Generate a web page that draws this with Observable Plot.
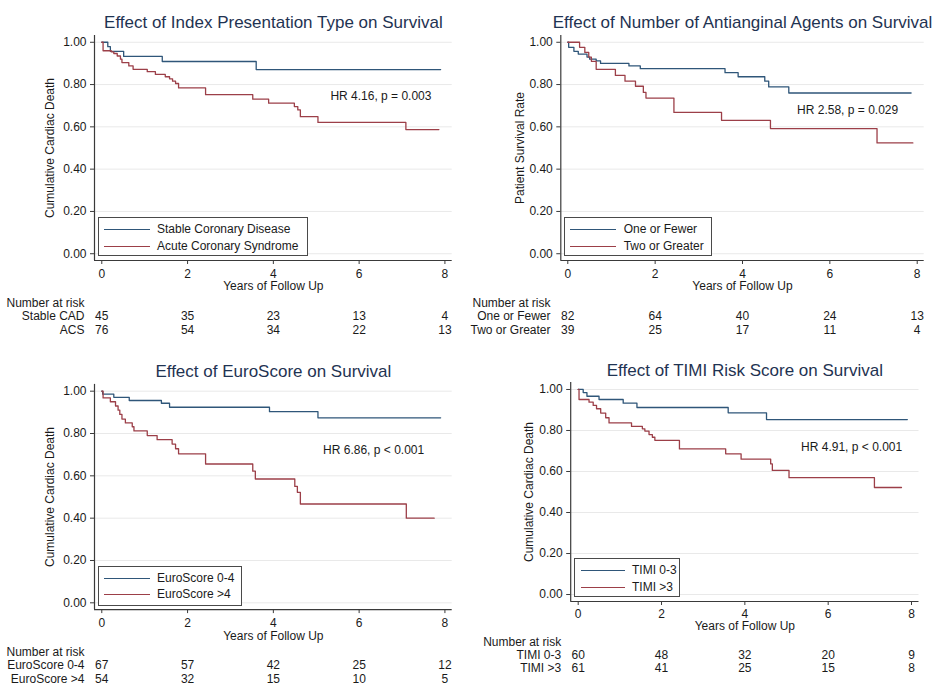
<!DOCTYPE html>
<html><head><meta charset="utf-8">
<script src="https://cdn.jsdelivr.net/npm/d3@7"></script>
<script src="https://cdn.jsdelivr.net/npm/@observablehq/plot@0.6"></script>
<style>
body{margin:0;background:#fff;font-family:"Liberation Sans",Arial,sans-serif;}
#wrap{position:relative;width:946px;height:692px;overflow:hidden;background:#fff;}
.panel{position:absolute;}
.panel svg{overflow:visible;}
.legend{position:absolute;border:1.3px solid #4a4a4a;background:#fff;box-sizing:border-box;}
.legend .sw{position:absolute;height:0;border-top:1.3px solid;}
.legend .lt{position:absolute;font-size:12px;color:#1a1a1a;line-height:14px;white-space:nowrap;}
</style></head><body><div id="wrap"></div>
<script>
// ---------- data ----------
const xTicks = [0, 2, 4, 6, 8];
const yTicks = [0, 0.2, 0.4, 0.6, 0.8, 1.0];
const riskYears = [0, 2, 4, 6, 8];
const xLabel = "Years of Follow Up";
const colors = ["#2f5679", "#9c3f48"];

// Panel 1: Index presentation type
const p1Title = "Effect of Index Presentation Type on Survival";
const p1YLabel = "Cumulative Cardiac Death";
const p1Names = ["Stable Coronary Disease", "Acute Coronary Syndrome"];
const p1RiskLabels = ["Stable CAD", "ACS"];
const p1StableT = [0, 0.14, 0.2, 0.51, 1.41, 3.6, 7.9];
const p1StableS = [1, 0.979, 0.957, 0.933, 0.909, 0.871, 0.871];
const p1AcsT = [0, 0.03, 0.22, 0.28, 0.36, 0.435, 0.47, 0.63, 0.73, 1.06, 1.25, 1.48, 1.58, 1.65, 1.72, 1.79, 2.42, 3.52, 3.89, 4.49, 4.57, 4.63, 5.04, 7.09, 7.86];
const p1AcsS = [1, 0.96, 0.955, 0.947, 0.935, 0.92, 0.904, 0.888, 0.872, 0.861, 0.848, 0.837, 0.827, 0.816, 0.805, 0.784, 0.752, 0.731, 0.712, 0.696, 0.68, 0.648, 0.621, 0.587, 0.587];
const p1RiskStable = [45, 35, 23, 13, 4];
const p1RiskAcs = [76, 54, 34, 22, 13];
const p1HR = "HR 4.16, p = 0.003";

// Panel 2: Number of antianginal agents
const p2Title = "Effect of Number of Antianginal Agents on Survival";
const p2YLabel = "Patient Survival Rate";
const p2Names = ["One or Fewer", "Two or Greater"];
const p2RiskLabels = ["One or Fewer", "Two or Greater"];
const p2OneT = [0, 0.02, 0.14, 0.24, 0.44, 0.5, 0.65, 0.75, 1.4, 1.66, 3.6, 3.9, 4.51, 4.6, 5.06, 7.86];
const p2OneS = [1, 0.976, 0.957, 0.944, 0.93, 0.92, 0.912, 0.90, 0.888, 0.875, 0.856, 0.837, 0.816, 0.789, 0.76, 0.76];
const p2TwoT = [0, 0.27, 0.39, 0.48, 0.54, 0.65, 1.09, 1.31, 1.55, 1.73, 1.79, 2.43, 3.52, 4.64, 7.08, 7.9];
const p2TwoS = [1, 0.976, 0.952, 0.93, 0.91, 0.872, 0.843, 0.816, 0.792, 0.763, 0.736, 0.668, 0.631, 0.592, 0.524, 0.524];
const p2RiskOne = [82, 64, 40, 24, 13];
const p2RiskTwo = [39, 25, 17, 11, 4];
const p2HR = "HR 2.58, p = 0.029";

// Panel 3: EuroScore
const p3Title = "Effect of EuroScore on Survival";
const p3YLabel = "Cumulative Cardiac Death";
const p3Names = ["EuroScore 0-4", "EuroScore >4"];
const p3RiskLabels = ["EuroScore 0-4", "EuroScore >4"];
const p3LowT = [0, 0.02, 0.28, 0.64, 1.39, 1.58, 3.91, 5.04, 7.9];
const p3LowS = [1, 0.986, 0.971, 0.956, 0.943, 0.924, 0.903, 0.874, 0.874];
const p3HighT = [0, 0.03, 0.2, 0.32, 0.38, 0.42, 0.47, 0.55, 0.71, 0.75, 1.06, 1.29, 1.64, 1.72, 1.79, 2.42, 3.52, 3.58, 4.5, 4.56, 4.63, 7.1, 7.75];
const p3HighS = [1, 0.968, 0.95, 0.93, 0.91, 0.89, 0.868, 0.85, 0.832, 0.812, 0.79, 0.771, 0.75, 0.728, 0.704, 0.656, 0.622, 0.585, 0.55, 0.522, 0.467, 0.40, 0.40];
const p3RiskLow = [67, 57, 42, 25, 12];
const p3RiskHigh = [54, 32, 15, 10, 5];
const p3HR = "HR 6.86, p < 0.001";

// Panel 4: TIMI risk score
const p4Title = "Effect of TIMI Risk Score on Survival";
const p4YLabel = "Cumulative Cardiac Death";
const p4Names = ["TIMI 0-3", "TIMI >3"];
const p4RiskLabels = ["TIMI 0-3", "TIMI >3"];
const p4LowT = [0, 0.12, 0.21, 0.5, 1.08, 1.41, 3.6, 4.52, 7.9];
const p4LowS = [1, 0.985, 0.967, 0.951, 0.933, 0.912, 0.886, 0.853, 0.853];
const p4HighT = [0, 0.02, 0.26, 0.36, 0.44, 0.54, 0.66, 0.74, 1.28, 1.54, 1.6, 1.7, 1.78, 1.84, 2.43, 3.54, 3.91, 4.62, 4.66, 5.06, 7.11, 7.76];
const p4HighS = [1, 0.951, 0.938, 0.922, 0.906, 0.885, 0.862, 0.837, 0.82, 0.808, 0.797, 0.78, 0.767, 0.752, 0.71, 0.686, 0.66, 0.637, 0.605, 0.57, 0.522, 0.522];
const p4RiskLow = [60, 48, 32, 20, 9];
const p4RiskHigh = [61, 41, 25, 15, 8];
const p4HR = "HR 4.91, p < 0.001";

// ---------- layout / drawing ----------
const FONT = "'Liberation Sans', Arial, sans-serif";
const TXT = "#1a1a1a";
const AX = "#3a3a3a";
const TITLE = "#1f3352";

function makePanel(c) {
  const xd = [-c.xPad, 8 + c.xPad];
  const yd = [-c.yPad, 1 + c.yPad];
  const rows = [];
  c.series.forEach(s => s.t.forEach((t, j) => rows.push({t, s: s.s[j], g: s.name})));
  const marks = [
    Plot.gridY(yTicks, {stroke: "#e9e9e9", strokeOpacity: 1, strokeWidth: 1}),
    Plot.ruleX([xd[0]], {stroke: AX, strokeWidth: 1.2}),
    Plot.ruleY([yd[0]], {stroke: AX, strokeWidth: 1.2}),
    Plot.axisY(yTicks, {tickFormat: d3.format(".2f"), tickSize: 4, tickPadding: 4, label: null, stroke: AX, fill: TXT}),
    Plot.axisX(xTicks, {tickSize: 4, tickPadding: c.xPadTick, label: null, stroke: AX, fill: TXT}),
    Plot.line(rows, {x: "t", y: "s", z: "g", stroke: "g", curve: "step-after", strokeWidth: 1.3}),
    Plot.text([c.hr], {x: c.hrX, y: c.hrY, textAnchor: "start", fill: TXT}),
    Plot.text([c.title], {frameAnchor: "top", lineAnchor: "middle", dy: c.titleDy, fontSize: 17, fill: TITLE}),
    Plot.text([c.ylabel], {frameAnchor: "left", textAnchor: "middle", lineAnchor: "middle", rotate: -90, dx: c.ylabDx, fill: TXT}),
    Plot.text([xLabel], {frameAnchor: "bottom", lineAnchor: "middle", dy: c.off[0], fill: TXT}),
    Plot.text(["Number at risk"], {frameAnchor: "bottom-left", textAnchor: "end", lineAnchor: "middle", dx: c.rowDx, dy: c.off[1], fill: TXT})
  ];
  c.series.forEach((s, i) => {
    marks.push(Plot.text([s.riskLabel], {frameAnchor: "bottom-left", textAnchor: "end", lineAnchor: "middle", dx: c.rowDx, dy: c.off[2 + i], fill: TXT}));
    const rr = riskYears.map((yr, j) => ({x: yr, n: s.risk[j]}));
    marks.push(Plot.text(rr, {x: "x", text: "n", frameAnchor: "bottom", lineAnchor: "middle", dy: c.off[2 + i], fill: TXT}));
  });
  const svg = Plot.plot({
    width: c.w, height: c.h,
    marginLeft: c.ml, marginRight: c.mr, marginTop: c.mt, marginBottom: c.mb,
    style: {fontFamily: FONT, fontSize: "12px", color: TXT, background: "#fff", overflow: "visible"},
    x: {domain: xd},
    y: {domain: yd},
    color: {domain: c.series.map(s => s.name), range: colors},
    marks
  });
  const div = document.createElement("div");
  div.className = "panel";
  div.style.left = c.left + "px"; div.style.top = c.top + "px";
  div.style.width = c.w + "px"; div.style.height = c.h + "px";
  div.appendChild(svg);
  // legend
  const L = c.legend;
  const lg = document.createElement("div");
  lg.className = "legend";
  lg.style.left = L.l + "px"; lg.style.top = L.t + "px";
  lg.style.width = L.w + "px"; lg.style.height = L.h + "px";
  c.series.forEach((s, i) => {
    const sw = document.createElement("div");
    sw.className = "sw";
    sw.style.borderTopColor = colors[i];
    sw.style.left = (L.x1 - L.l) + "px";
    sw.style.width = (L.x2 - L.x1) + "px";
    sw.style.top = (L.rows[i] - L.t - 1) + "px";
    lg.appendChild(sw);
    const lt = document.createElement("div");
    lt.className = "lt";
    lt.textContent = s.name;
    lt.style.left = (L.tx - L.l) + "px";
    lt.style.top = (L.rows[i] - L.t - 8) + "px";
    lg.appendChild(lt);
  });
  div.appendChild(lg);
  document.getElementById("wrap").appendChild(div);
}

makePanel({
  left: 0, top: 0, w: 470, h: 340, ml: 94, mr: 18.3, mt: 35, mb: 80, xPad: 0.17, yPad: 0.032, xPadTick: 5,
  title: p1Title, ylabel: p1YLabel, hr: p1HR, hrX: 5.33, hrY: 0.745,
  titleDy: -13, ylabDx: -44, rowDx: -10, off: [26, 43, 56, 70],
  series: [
    {name: p1Names[0], riskLabel: p1RiskLabels[0], t: p1StableT, s: p1StableS, risk: p1RiskStable},
    {name: p1Names[1], riskLabel: p1RiskLabels[1], t: p1AcsT, s: p1AcsS, risk: p1RiskAcs}
  ],
  legend: {l: 97.7, t: 216.7, w: 210.3, h: 39.3, x1: 103, x2: 149, tx: 156, rows: [228.7, 245.7]}
});
makePanel({
  left: 470, top: 0, w: 476, h: 340, ml: 90.3, mr: 22.3, mt: 35, mb: 80, xPad: 0.16, yPad: 0.032, xPadTick: 5,
  title: p2Title, ylabel: p2YLabel, hr: p2HR, hrX: 5.25, hrY: 0.677,
  titleDy: -13, ylabDx: -40.3, rowDx: -10.3, off: [26, 43, 56, 70],
  series: [
    {name: p2Names[0], riskLabel: p2RiskLabels[0], t: p2OneT, s: p2OneS, risk: p2RiskOne},
    {name: p2Names[1], riskLabel: p2RiskLabels[1], t: p2TwoT, s: p2TwoS, risk: p2RiskTwo}
  ],
  legend: {l: 94.3, t: 216.7, w: 147.4, h: 39.3, x1: 99, x2: 145, tx: 152.7, rows: [228.7, 245.7]}
});
makePanel({
  left: 0, top: 340, w: 470, h: 352, ml: 94, mr: 18.3, mt: 43.9, mb: 82.9, xPad: 0.17, yPad: 0.032, xPadTick: 5,
  title: p3Title, ylabel: p3YLabel, hr: p3HR, hrX: 5.16, hrY: 0.723,
  titleDy: -13, ylabDx: -44, rowDx: -10, off: [26.3, 42.7, 56, 70],
  series: [
    {name: p3Names[0], riskLabel: p3RiskLabels[0], t: p3LowT, s: p3LowS, risk: p3RiskLow},
    {name: p3Names[1], riskLabel: p3RiskLabels[1], t: p3HighT, s: p3HighS, risk: p3RiskHigh}
  ],
  legend: {l: 97.7, t: 225.7, w: 144.6, h: 40, x1: 103, x2: 149, tx: 156, rows: [237.7, 254.3]}
});
makePanel({
  left: 470, top: 340, w: 476, h: 352, ml: 100.2, mr: 27.5, mt: 42, mb: 91, xPad: 0.18, yPad: 0.034, xPadTick: 3.5,
  title: p4Title, ylabel: p4YLabel, hr: p4HR, hrX: 5.35, hrY: 0.719,
  titleDy: -12, ylabDx: -41.9, rowDx: -9.5, off: [25, 40.5, 53.5, 66.8],
  series: [
    {name: p4Names[0], riskLabel: p4RiskLabels[0], t: p4LowT, s: p4LowS, risk: p4RiskLow},
    {name: p4Names[1], riskLabel: p4RiskLabels[1], t: p4HighT, s: p4HighS, risk: p4RiskHigh}
  ],
  legend: {l: 104.3, t: 218.3, w: 105.7, h: 38.4, x1: 110, x2: 154, tx: 161, rows: [230, 246.7]}
});
</script></body></html>
